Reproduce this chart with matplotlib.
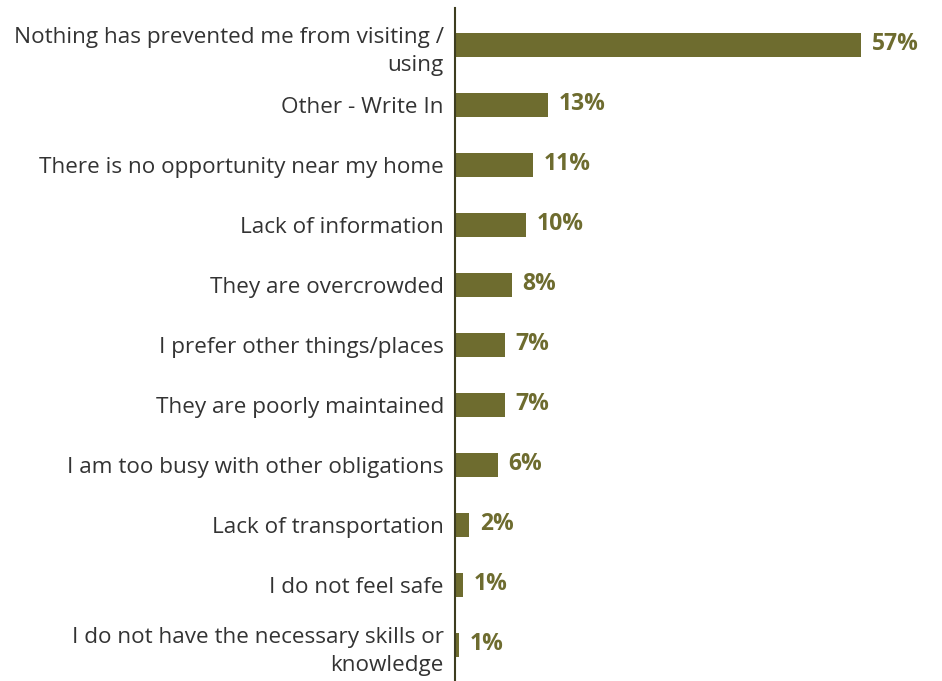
import matplotlib.pyplot as plt

categories = [
    "Nothing has prevented me from visiting /\nusing",
    "Other - Write In",
    "There is no opportunity near my home",
    "Lack of information",
    "They are overcrowded",
    "I prefer other things/places",
    "They are poorly maintained",
    "I am too busy with other obligations",
    "Lack of transportation",
    "I do not feel safe",
    "I do not have the necessary skills or\nknowledge",
]
values = [57, 13, 11, 10, 8, 7, 7, 6, 2, 1.1, 0.6]
value_labels = ["57%", "13%", "11%", "10%", "8%", "7%", "7%", "6%", "2%", "1%", "1%"]

bar_color = "#6e6c2f"
text_color = "#333333"

fig = plt.figure(figsize=(9.42, 6.81), dpi=100)
ax = fig.add_axes([455 / 942, 0, 487 / 942, 673 / 681])

y = list(range(len(categories)))
ax.barh(y, values, height=0.39, color=bar_color)

for yi, v, lab in zip(y, values, value_labels):
    ax.text(v + 1.5, yi - 0.02, lab, va="center", ha="left", fontsize=16.5,
            fontweight="bold", color=bar_color, family="Open Sans")

ax.set_xlim(0, 68.4)
ax.set_ylim(10.6, -0.617)
ax.set_yticks(y)
ax.set_yticklabels(categories, fontsize=16.2, color=text_color, family="Open Sans",
                   linespacing=1.45)
ax.tick_params(axis="y", length=0, pad=8)
ax.set_xticks([])

for s in ["top", "right", "bottom"]:
    ax.spines[s].set_visible(False)
ax.spines["left"].set_color("#3d3d1f")
ax.spines["left"].set_linewidth(1.5)

plt.savefig("out.png", dpi=100)
